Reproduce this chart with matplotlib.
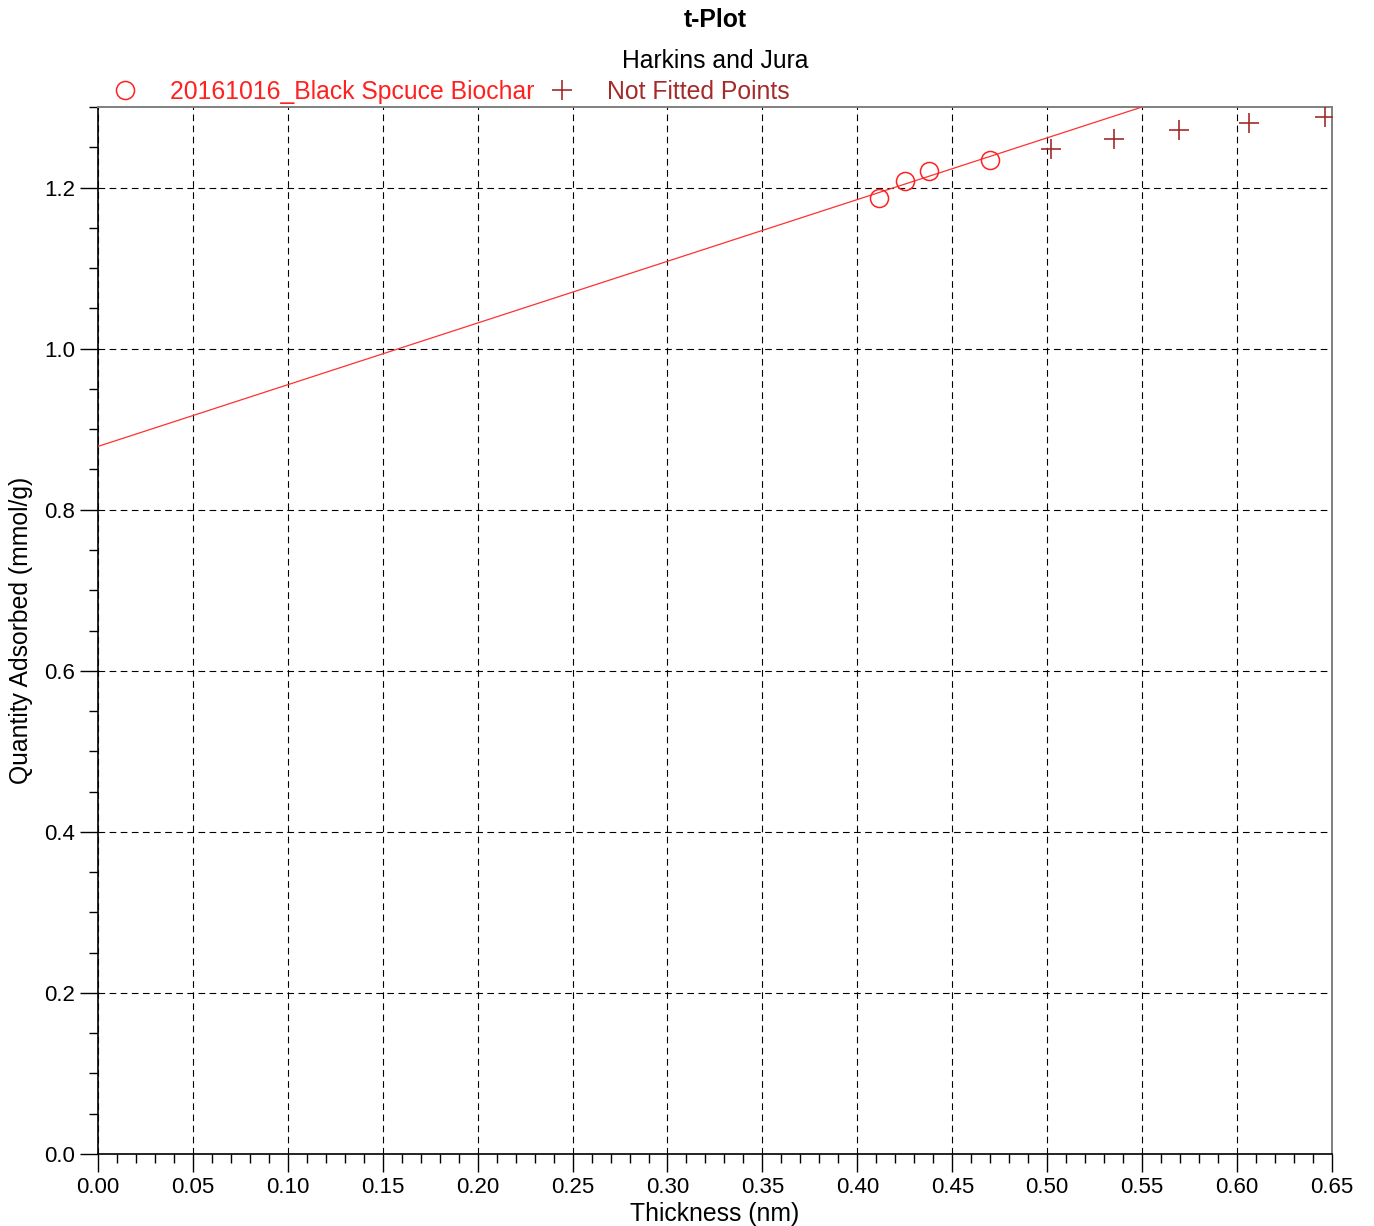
import numpy as np
import matplotlib.pyplot as plt
from matplotlib.ticker import MultipleLocator, FormatStrFormatter

plt.rcParams['font.family'] = ['Liberation Sans', 'DejaVu Sans']

# fitted points (t-plot, Harkins and Jura)
fit_t = [0.4114, 0.4251, 0.4377, 0.4698]
fit_q = [1.1876, 1.2087, 1.2211, 1.2348]

# points not used in the fit
other_t = [0.5020, 0.5352, 0.5694, 0.6063, 0.6463]
other_q = [1.2484, 1.2609, 1.2720, 1.2807, 1.2881]

# fitted line
slope = 0.7663
intercept = 0.8786

fig = plt.figure(figsize=(13.74, 12.26), dpi=100)
ax = fig.add_axes([0.0713, 0.0587, 0.8981, 0.8540])

line_t = np.array([0.0, 0.65])
ax.plot(line_t, intercept + slope * line_t, color='#ff3030', lw=0.9, zorder=3)

h1, = ax.plot(fit_t, fit_q, 'o', mfc='none', mec='#ff2020', ms=13, mew=1.1,
              zorder=4, label='20161016_Black Spcuce Biochar')
h2, = ax.plot(other_t, other_q, '+', color='#a52a2a', ms=14, mew=1.2,
              zorder=4, label='Not Fitted Points')

ax.set_xlim(0, 0.65)
ax.set_ylim(0, 1.3)
ax.xaxis.set_major_locator(MultipleLocator(0.05))
ax.xaxis.set_minor_locator(MultipleLocator(0.01))
ax.yaxis.set_major_locator(MultipleLocator(0.2))
ax.yaxis.set_minor_locator(MultipleLocator(0.05))
ax.xaxis.set_major_formatter(FormatStrFormatter('%.2f'))
ax.yaxis.set_major_formatter(FormatStrFormatter('%.1f'))

ax.tick_params(which='major', direction='out', length=13, width=1,
               labelsize=16, pad=3.5)
ax.tick_params(which='minor', direction='out', length=6.5, width=1)
ax.tick_params(top=False, right=False, which='both')

ax.grid(True, which='major', color='black', lw=0.8, linestyle=(0, (6, 4)))
ax.set_axisbelow(True)

for s in ['left', 'bottom']:
    ax.spines[s].set_color('black')
    ax.spines[s].set_linewidth(1.2)
for s in ['top', 'right']:
    ax.spines[s].set_color('#808080')
    ax.spines[s].set_linewidth(1.4)

ax.set_xlabel('Thickness (nm)', fontsize=17.8, labelpad=3)
ax.set_ylabel('Quantity Adsorbed (mmol/g)', fontsize=17.8, labelpad=8)

fig.text(0.5207, 0.984, 't-Plot', fontsize=17.8, fontweight='bold',
         ha='center', va='center')
fig.text(0.5207, 0.950, 'Harkins and Jura', fontsize=17.8,
         ha='center', va='center')

leg = ax.legend(handles=[h1, h2], ncol=2, loc='center left',
                bbox_to_anchor=(0.0016, 1.0145), frameon=False, fontsize=17.8,
                handlelength=2, handletextpad=0.82, columnspacing=0.12,
                borderaxespad=0, borderpad=0)
for txt, c in zip(leg.get_texts(), ['#ff2020', '#a52a2a']):
    txt.set_color(c)

fig.savefig('out.png', dpi=100)
